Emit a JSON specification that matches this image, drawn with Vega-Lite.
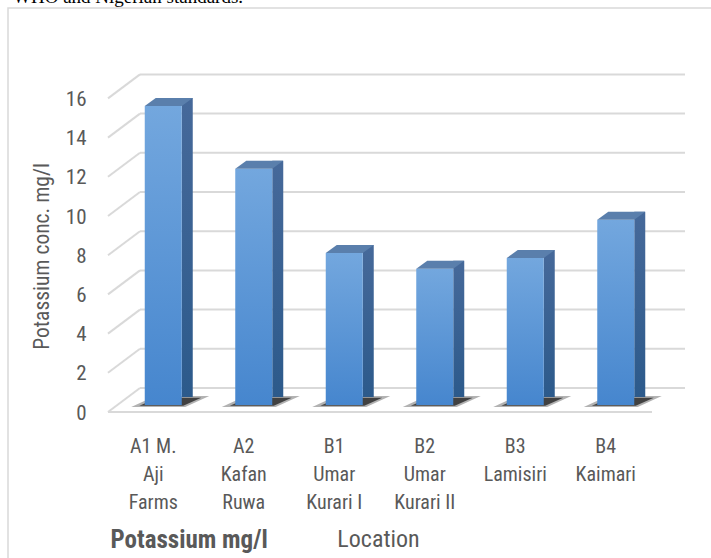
{
  "$schema": "https://vega.github.io/schema/vega-lite/v6.json",
  "width": 710,
  "height": 560,
  "autosize": "none",
  "padding": {"left": 8, "top": 8, "right": 0, "bottom": 0},
  "background": "white",
  "title": {"text": "WHO and Nigerian standards.", "anchor": "start", "frame": "group", "font": "Liberation Serif", "fontSize": 19, "fontWeight": "normal", "color": "#000000", "baseline": "alphabetic", "offset": 0, "dy": 14, "dx": 5},
  "datasets": {
    "main": [
      {"location": "A1 M.\nAji\nFarms", "value": 15.25},
      {"location": "A2\nKafan\nRuwa", "value": 12.05},
      {"location": "B1\nUmar\nKurari I", "value": 7.75},
      {"location": "B2\nUmar\nKurari II", "value": 6.95},
      {"location": "B3\nLamisiri", "value": 7.5},
      {"location": "B4\nKaimari", "value": 9.45}
    ],
    "grid": [{"g": 0}, {"g": 2}, {"g": 4}, {"g": 6}, {"g": 8}, {"g": 10}, {"g": 12}, {"g": 14}, {"g": 16}]
  },
  "resolve": {"axis": {"x": "independent"}},
  "layer": [
    {
      "data": {"name": "grid"},
      "mark": {"type": "rule", "color": "#d9d9d9", "strokeWidth": 2, "xOffset": -13.25, "x2Offset": 79.25, "yOffset": -17},
      "encoding": {
        "x": {"datum": "A1 M.\nAji\nFarms", "type": "nominal", "axis": null},
        "x2": {"datum": "B4\nKaimari"},
        "y": {"field": "g", "type": "quantitative", "title": "Potassium conc. mg/l"}
      }
    },
    {
      "data": {"name": "grid"},
      "mark": {"type": "rule", "color": "#d9d9d9", "strokeWidth": 2, "xOffset": -45.25, "x2Offset": -13.25, "yOffset": 7, "y2Offset": -17},
      "encoding": {
        "x": {"datum": "A1 M.\nAji\nFarms", "type": "nominal", "axis": null},
        "x2": {"datum": "A1 M.\nAji\nFarms"},
        "y": {"field": "g", "type": "quantitative", "title": "Potassium conc. mg/l"},
        "y2": {"field": "g"}
      }
    },
    {
      "data": {"values": [{"g": 0}]},
      "mark": {"type": "rule", "color": "#d9d9d9", "strokeWidth": 2, "xOffset": -45.25, "x2Offset": 46.25, "yOffset": 7},
      "encoding": {
        "x": {"datum": "A1 M.\nAji\nFarms", "type": "nominal", "axis": null},
        "x2": {"datum": "B4\nKaimari"},
        "y": {"field": "g", "type": "quantitative", "title": "Potassium conc. mg/l"}
      }
    },
    {
      "data": {"name": "main"},
      "mark": {"type": "point", "shape": "M-0.696,0.043L0.478,0.043L1,-0.196L-0.174,-0.196Z", "size": 8464, "filled": true, "color": "#555555", "opacity": 0.45, "strokeWidth": 0, "xOffset": 10},
      "encoding": {
        "x": {"field": "location", "type": "nominal", "axis": null},
        "y": {"datum": 0, "type": "quantitative", "title": "Potassium conc. mg/l"}
      }
    },
    {
      "data": {"name": "main"},
      "mark": {"type": "point", "shape": "M-0.72,0.02L0.5,0.02L1,-0.2L-0.2,-0.2Z", "size": 5184, "filled": true, "color": "#111111", "opacity": 0.7, "strokeWidth": 0, "xOffset": 12},
      "encoding": {
        "x": {"field": "location", "type": "nominal", "axis": null},
        "y": {"datum": 0, "type": "quantitative", "title": "Potassium conc. mg/l"}
      }
    },
    {
      "data": {"name": "main"},
      "mark": {"type": "bar", "width": 11, "xOffset": 34, "yOffset": -8, "y2Offset": -8,
        "color": {"gradient": "linear", "x1": 0, "y1": 0, "x2": 0, "y2": 1, "stops": [{"offset": 0, "color": "#46699a"}, {"offset": 1, "color": "#2c5a8b"}]}},
      "encoding": {
        "x": {"field": "location", "type": "nominal", "axis": null},
        "y": {"field": "value", "type": "quantitative", "title": "Potassium conc. mg/l"},
        "y2": {"datum": 0}
      }
    },
    {
      "data": {"name": "main"},
      "mark": {"type": "bar", "width": 37, "xOffset": 10,
        "color": {"gradient": "linear", "x1": 0, "y1": 0, "x2": 0, "y2": 1, "stops": [{"offset": 0, "color": "#73a7de"}, {"offset": 1, "color": "#4686ce"}]}},
      "encoding": {
        "x": {
          "field": "location", "type": "nominal", "title": "Location", "sort": null,
          "scale": {"domain": ["A1 M.\nAji\nFarms", "A2\nKafan\nRuwa", "B1\nUmar\nKurari I", "B2\nUmar\nKurari II", "B3\nLamisiri", "B4\nKaimari"], "range": [100, 643], "paddingInner": 0, "paddingOuter": 0},
          "axis": {"orient": "bottom", "offset": -132, "labelAngle": 0, "labelExpr": "split(datum.label, '\\n')", "labelLineHeight": 28, "labelBaseline": "top", "labelPadding": 0, "labelLimit": 0, "titleX": 370, "titleY": 110, "titleFontSize": 24, "titleBaseline": "alphabetic", "titleAlign": "center", "titleAnchor": null}
        },
        "y": {
          "field": "value", "type": "quantitative", "title": "Potassium conc. mg/l",
          "scale": {"domain": [0, 16], "range": [397, 83.4], "nice": false, "zero": true},
          "axis": {"values": [0, 2, 4, 6, 8, 10, 12, 14, 16]}
        },
        "y2": {"datum": 0}
      }
    },
    {
      "data": {"name": "main"},
      "mark": {"type": "point", "shape": "M-0.627,0L0.627,0L1,-0.271L-0.254,-0.271Z", "size": 3481, "filled": true, "color": "#5a7fac", "opacity": 1, "strokeWidth": 0, "xOffset": 10},
      "encoding": {
        "x": {"field": "location", "type": "nominal", "title": "Potassium mg/l",
          "axis": {"orient": "top", "labels": false, "ticks": false, "domain": false, "grid": false, "titleX": 102, "titleY": 539, "titleAlign": "left", "titleBaseline": "alphabetic", "titleFontWeight": "bold", "titleFontSize": 25, "titleAnchor": null}},
        "y": {"field": "value", "type": "quantitative", "title": "Potassium conc. mg/l"}
      }
    }
  ],
  "config": {
    "view": {"stroke": "#d9d9d9", "strokeWidth": 1.5},
    "axis": {
      "labelFont": "Liberation Sans Narrow, Roboto Condensed, DejaVu Sans Condensed, sans-serif",
      "titleFont": "Liberation Sans Narrow, Roboto Condensed, DejaVu Sans Condensed, sans-serif",
      "labelColor": "#595959",
      "titleColor": "#595959",
      "labelFontSize": 20,
      "titleFontSize": 20,
      "titleFontWeight": "normal",
      "domain": false,
      "ticks": false,
      "grid": false,
      "labelOverlap": false
    },
    "axisY": {
      "offset": -82,
      "labelPadding": 4,
      "labelOffset": 8,
      "labelFontSize": 21,
      "titleX": -48,
      "titleY": 248,
      "titleFontSize": 21.5,
      "titleAlign": "center",
      "titleBaseline": "middle",
      "titleAngle": -90,
      "titleAnchor": null
    }
  }
}
